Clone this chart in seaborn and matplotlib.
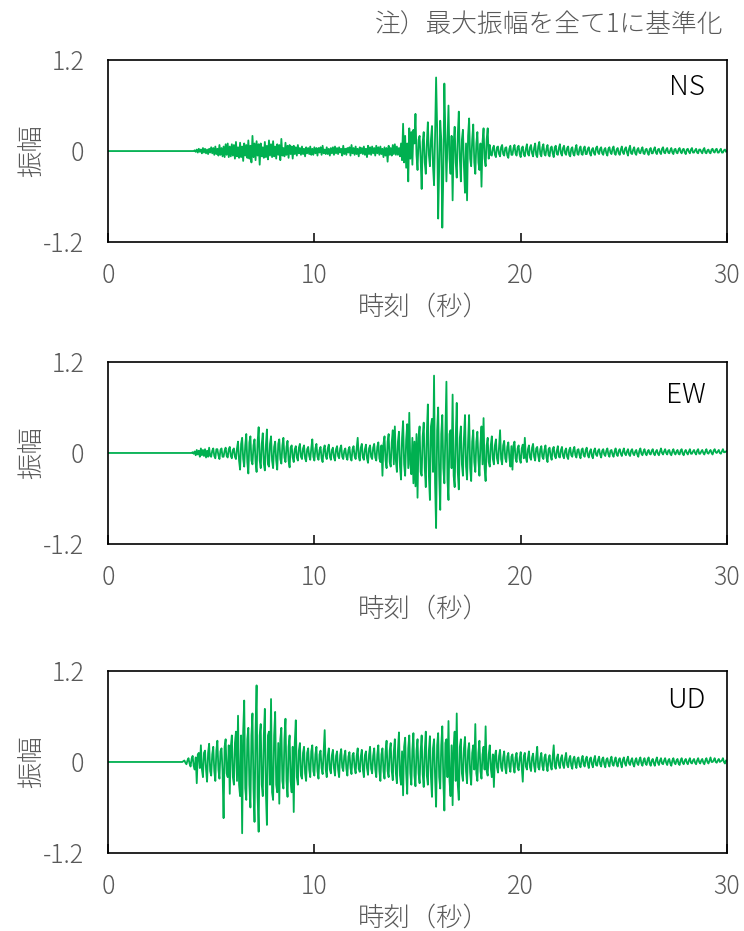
import numpy as np
import pandas as pd
import seaborn as sns
import matplotlib
matplotlib.use("Agg")
import matplotlib.pyplot as plt

# waveforms, one value every 0.05 s (normalised, max |amp| = 1)
# one row = one second
DT = 0.05

NS_START = 4.0
NS = [
    0, 0, 0, 0, 0.01, -0.01, 0.02, -0.02, 0.03, -0.01, 0.02, -0.03, 0.04, -0.02, 0.03, -0.03, 0.02, -0.04, 0.03, -0.02,
    0.05, -0.03, 0.04, -0.05, 0.06, -0.04, 0.03, -0.06, 0.08, -0.05, 0.04, -0.07, 0.06, -0.08, 0.09, -0.05, 0.10, -0.08, 0.06, -0.07,
    0.09, -0.06, 0.08, -0.10, 0.12, -0.07, 0.05, -0.09, 0.11, -0.08, 0.06, -0.13, 0.10, -0.06, 0.08, -0.09, 0.14, -0.10, 0.07, -0.15,
    0.20, -0.08, 0.10, -0.12, 0.13, -0.06, 0.09, -0.18, 0.10, -0.07, 0.05, -0.09, 0.12, -0.08, 0.07, -0.11, 0.14, -0.06, 0.09, -0.08,
    0.13, -0.07, 0.06, -0.10, 0.09, -0.05, 0.08, -0.12, 0.16, -0.06, 0.04, -0.07, 0.11, -0.05, 0.07, -0.09, 0.08, -0.04, 0.06, -0.10,
    0.07, -0.04, 0.05, -0.06, 0.08, -0.03, 0.04, -0.05, 0.06, -0.04, 0.03, -0.07, 0.05, -0.03, 0.04, -0.04, 0.06, -0.05, 0.03, -0.05,
    0.05, -0.03, 0.04, -0.06, 0.04, -0.02, 0.05, -0.05, 0.07, -0.03, 0.02, -0.04, 0.05, -0.04, 0.03, -0.06, 0.04, -0.03, 0.05, -0.05,
    0.06, -0.03, 0.04, -0.04, 0.05, -0.02, 0.03, -0.06, 0.07, -0.04, 0.03, -0.05, 0.04, -0.02, 0.05, -0.06, 0.08, -0.03, 0.04, -0.05,
    0.06, -0.04, 0.03, -0.07, 0.05, -0.03, 0.04, -0.04, 0.06, -0.05, 0.03, -0.08, 0.07, -0.04, 0.05, -0.05, 0.06, -0.03, 0.04, -0.06,
    0.07, -0.03, 0.05, -0.05, 0.06, -0.04, 0.03, -0.08, 0.05, -0.06, 0.04, -0.14, 0.07, -0.05, 0.04, -0.06, 0.08, -0.04, 0.09, -0.05,
    0.06, -0.05, 0.04, -0.07, 0.10, -0.12, 0.36, -0.15, 0.20, -0.22, 0.10, -0.40, 0.30, -0.10, 0.25, -0.18, 0.28, 0.10, 0.49, -0.05,
    -0.25, 0.15, 0.20, -0.10, -0.50, 0.12, 0.25, -0.15, -0.30, 0.10, 0.38, -0.05, -0.20, 0.15, 0.33, -0.20, -0.45, 0.20, 0.97, 0.30,
    -0.89, -0.20, 0.40, 0.15, -1.01, -0.30, 0.89, 0.20, -0.40, 0.10, 0.60, -0.10, -0.30, 0.20, -0.65, 0.10, 0.32, -0.15, -0.35, 0.20,
    0.52, -0.10, -0.40, 0.15, 0.28, -0.20, -0.55, 0.10, -0.65, 0.20, 0.43, -0.10, -0.20, 0.15, 0.35, -0.15, -0.30, 0.10, 0.25, -0.15,
    -0.25, 0.10, -0.47, 0.12, 0.30, -0.10, -0.20, 0.15, 0.30, -0.10, 0.08, -0.05, -0.06, 0.04, 0.07, -0.05, -0.08, 0.05, 0.06, -0.04,
    -0.07, 0.05, 0.08, -0.04, -0.06, 0.04, 0.05, -0.06, -0.09, 0.03, 0.07, -0.05, -0.05, 0.04, 0.08, -0.03, -0.06, 0.05, 0.07, -0.04,
    -0.08, 0.04, 0.06, -0.05, -0.07, 0.03, 0.09, -0.04, -0.06, 0.05, 0.08, -0.03, -0.07, 0.04, 0.10, -0.05, -0.08, 0.06, 0.12, -0.04,
    -0.07, 0.05, 0.09, -0.04, -0.06, 0.03, 0.08, -0.05, -0.07, 0.04, 0.06, -0.03, -0.08, 0.05, 0.07, -0.04, -0.05, 0.04, 0.09, -0.03,
    -0.06, 0.04, 0.07, -0.03, -0.05, 0.04, 0.06, -0.05, -0.07, 0.03, 0.05, -0.04, -0.06, 0.03, 0.08, -0.04, -0.05, 0.03, 0.06, -0.04,
    -0.05, 0.03, 0.06, -0.04, -0.04, 0.03, 0.05, -0.03, -0.06, 0.02, 0.04, -0.03, -0.05, 0.04, 0.06, -0.02, -0.04, 0.03, 0.05, -0.03,
    -0.05, 0.02, 0.04, -0.03, -0.06, 0.03, 0.05, -0.02, -0.04, 0.03, 0.06, -0.03, -0.05, 0.02, 0.04, -0.03, -0.05, 0.02, 0.06, -0.02,
    -0.04, 0.03, 0.05, -0.02, -0.06, 0.03, 0.07, -0.03, -0.04, 0.02, 0.05, -0.03, -0.05, 0.02, 0.04, -0.02, -0.03, 0.02, 0.05, -0.03,
    -0.04, 0.02, 0.03, -0.02, -0.05, 0.02, 0.04, -0.03, -0.03, 0.02, 0.05, -0.02, -0.04, 0.02, 0.03, -0.02, -0.04, 0.03, 0.05, -0.02,
    -0.03, 0.02, 0.04, -0.02, -0.03, 0.01, 0.04, -0.02, -0.04, 0.02, 0.03, -0.02, -0.03, 0.02, 0.04, -0.01, -0.03, 0.02, 0.03, -0.02,
    -0.04, 0.02, 0.03, -0.01, -0.03, 0.02, 0.04, -0.02, -0.02, 0.01, 0.03, -0.02, -0.03, 0.02, 0.02, -0.01, -0.03, 0.02, 0.04, -0.02,
    -0.03, 0.01, 0.02, -0.02, -0.03, 0.02, 0.03, -0.01, -0.02, 0.02, 0.03, -0.02, -0.02, 0.01, 0.03, -0.02, -0.02, 0.01, 0.02, -0.01,
    0.00,
]

EW_START = 4.0
EW = [
    0, 0, 0.01, -0.01, 0.02, -0.03, 0.04, -0.02, 0.03, -0.05, 0.06, -0.03, 0.04, -0.04, 0.05, -0.06, 0.03, -0.05, 0.07, -0.04,
    -0.05, 0.03, 0.06, -0.04, -0.07, 0.05, 0.05, -0.03, -0.08, 0.04, 0.06, -0.05, -0.05, 0.03, 0.07, -0.04, -0.06, 0.05, 0.08, -0.04,
    -0.07, 0.04, 0.06, -0.05, -0.08, 0.06, 0.15, -0.10, -0.22, 0.12, 0.20, -0.08, -0.18, 0.10, 0.25, -0.12, -0.27, 0.14, 0.22, -0.10,
    -0.15, 0.10, 0.18, -0.12, -0.25, 0.15, 0.34, -0.10, -0.20, 0.12, 0.26, -0.14, -0.23, 0.10, 0.31, -0.15, -0.18, 0.12, 0.22, -0.10,
    -0.20, 0.08, 0.15, -0.10, -0.22, 0.12, 0.18, -0.08, -0.14, 0.10, 0.20, -0.06, -0.12, 0.08, 0.16, -0.10, -0.19, 0.07, 0.10, -0.06,
    -0.12, 0.05, 0.09, -0.06, -0.10, 0.07, 0.12, -0.05, -0.08, 0.06, 0.10, -0.07, -0.11, 0.05, 0.08, -0.04, -0.09, 0.06, 0.18, -0.05,
    -0.10, 0.06, 0.12, -0.05, -0.09, 0.04, 0.08, -0.07, -0.12, 0.05, 0.10, -0.04, -0.08, 0.06, 0.11, -0.05, -0.09, 0.04, 0.07, -0.06,
    -0.10, 0.05, 0.09, -0.04, -0.07, 0.06, 0.10, -0.05, -0.08, 0.03, 0.06, -0.05, -0.09, 0.04, 0.08, -0.06, -0.10, 0.05, 0.09, -0.04,
    -0.08, 0.06, 0.20, -0.05, -0.10, 0.07, 0.12, -0.06, -0.09, 0.05, 0.11, -0.07, -0.13, 0.06, 0.10, -0.05, -0.08, 0.07, 0.12, -0.06,
    -0.10, 0.08, 0.14, -0.07, -0.12, 0.10, -0.30, 0.12, 0.22, -0.10, -0.20, 0.15, 0.25, -0.12, -0.18, 0.14, 0.30, -0.15, 0.35, -0.10,
    -0.25, 0.15, 0.28, -0.18, -0.35, 0.20, 0.42, -0.15, -0.30, 0.18, 0.38, -0.20, 0.53, -0.15, -0.28, 0.20, -0.40, 0.15, -0.44, 0.25,
    -0.59, 0.20, 0.35, -0.25, -0.30, 0.22, 0.40, -0.20, -0.45, 0.25, 0.64, -0.30, -0.62, 0.35, 0.45, -0.25, 1.02, -0.40, -0.99, 0.30,
    0.60, -0.30, -0.75, 0.25, 0.50, -0.20, -0.40, 0.30, 0.94, -0.35, -0.62, 0.25, 0.30, -0.20, 0.77, -0.30, -0.45, 0.20, 0.66, -0.25,
    -0.48, 0.20, 0.35, -0.15, -0.30, 0.20, 0.50, -0.18, -0.35, 0.15, 0.50, -0.20, -0.37, 0.15, 0.30, -0.12, -0.25, 0.15, 0.28, -0.10,
    -0.30, 0.12, 0.35, -0.15, 0.46, -0.20, -0.37, 0.10, 0.20, -0.12, -0.18, 0.10, 0.22, -0.08, -0.15, 0.10, 0.18, -0.07, -0.14, 0.08,
    0.30, -0.08, -0.15, 0.10, 0.16, -0.07, -0.12, 0.08, 0.14, -0.06, -0.18, 0.09, -0.22, 0.10, 0.15, -0.07, -0.12, 0.06, 0.10, -0.08,
    -0.13, 0.06, 0.11, -0.07, 0.20, -0.06, -0.12, 0.05, 0.10, -0.06, -0.09, 0.07, 0.12, -0.05, -0.10, 0.06, 0.08, -0.04, -0.11, 0.05,
    0.09, -0.05, -0.08, 0.04, 0.10, -0.06, -0.12, 0.05, 0.07, -0.04, -0.09, 0.05, 0.08, -0.04, -0.07, 0.03, 0.09, -0.05, -0.06, 0.04,
    0.08, -0.04, -0.07, 0.03, 0.06, -0.05, -0.08, 0.04, 0.07, -0.03, -0.05, 0.04, 0.08, -0.03, -0.06, 0.04, 0.05, -0.03, -0.07, 0.04,
    0.06, -0.03, -0.05, 0.04, 0.07, -0.03, -0.06, 0.02, 0.05, -0.04, -0.07, 0.03, 0.06, -0.02, -0.04, 0.03, 0.05, -0.02, -0.06, 0.03,
    0.05, -0.02, -0.04, 0.03, 0.06, -0.02, -0.05, 0.03, 0.04, -0.02, -0.05, 0.02, 0.06, -0.02, -0.04, 0.03, 0.05, -0.01, -0.04, 0.02,
    0.06, -0.01, -0.03, 0.02, 0.05, -0.02, -0.04, 0.03, 0.05, -0.01, -0.03, 0.02, 0.04, -0.02, -0.05, 0.03, 0.06, -0.01, -0.03, 0.02,
    0.05, -0.01, -0.03, 0.02, 0.04, -0.01, -0.02, 0.03, 0.05, -0.01, -0.03, 0.02, 0.04, -0.01, -0.03, 0.02, 0.06, 0.00, -0.02, 0.02,
    0.05, 0.00, -0.02, 0.03, 0.04, -0.01, -0.03, 0.02, 0.05, 0.00, -0.02, 0.02, 0.04, -0.01, -0.02, 0.03, 0.05, -0.01, -0.03, 0.02,
    0.04, 0.00, -0.02, 0.02, 0.05, -0.01, -0.01, 0.02, 0.04, 0.00, -0.02, 0.03, 0.05, -0.01, -0.01, 0.02, 0.04, 0.00, -0.02, 0.02,
    0.05, 0.00, -0.01, 0.02, 0.04, 0.00, -0.02, 0.03, 0.05, 0.01, 0.00, 0.02, 0.04, 0.00, -0.01, 0.02, 0.05, 0.01, 0.01, 0.02,
    0.03,
]

UD_START = 3.6
UD = [
    0.00, 0.01, 0.02, -0.01, -0.03, 0.02, 0.05, -0.02,
    -0.06, 0.04, 0.08, -0.05, -0.10, 0.06, -0.28, 0.10, 0.12, -0.08, 0.22, -0.10, -0.20, 0.12, 0.15, -0.10, -0.26, 0.12, 0.24, -0.12,
    -0.18, 0.10, 0.20, -0.12, -0.25, 0.15, 0.28, -0.10, -0.22, 0.14, 0.18, -0.12, -0.74, 0.20, 0.30, -0.15, -0.20, 0.22, -0.42, 0.20,
    0.35, -0.20, -0.30, 0.25, 0.40, -0.25, 0.61, -0.30, -0.45, 0.35, -0.94, 0.40, 0.81, -0.35, -0.50, 0.30, 0.45, -0.30, -0.60, 0.35,
    0.64, -0.35, -0.79, 0.40, 1.01, -0.45, -0.92, 0.35, 0.50, -0.30, -0.45, 0.35, 0.70, -0.40, -0.83, 0.35, 0.40, -0.30, 0.83, -0.40,
    -0.50, 0.35, 0.66, -0.30, -0.40, 0.25, -0.55, 0.30, 0.45, -0.25, -0.35, 0.30, 0.57, -0.25, -0.46, 0.20, 0.35, -0.25, -0.40, 0.20,
    -0.66, 0.25, 0.55, -0.20, -0.30, 0.15, 0.25, -0.18, -0.22, 0.12, 0.20, -0.15, -0.25, 0.12, 0.18, -0.10, -0.20, 0.14, 0.22, -0.12,
    -0.18, 0.10, 0.20, -0.12, -0.22, 0.10, 0.15, -0.08, -0.16, 0.12, 0.42, -0.10, -0.20, 0.08, 0.18, -0.10, -0.15, 0.09, 0.16, -0.08,
    -0.18, 0.08, 0.14, -0.10, -0.20, 0.09, 0.17, -0.07, -0.12, 0.08, 0.15, -0.09, -0.18, 0.07, 0.13, -0.08, -0.16, 0.09, 0.12, -0.07,
    -0.15, 0.08, 0.18, -0.09, -0.13, 0.07, 0.16, -0.10, -0.20, 0.09, 0.14, -0.08, -0.17, 0.10, 0.20, -0.09, -0.15, 0.08, 0.18, -0.10,
    -0.20, 0.10, 0.22, -0.12, -0.25, 0.10, 0.18, -0.12, -0.22, 0.14, 0.28, -0.12, -0.20, 0.15, 0.25, -0.12, -0.24, 0.14, 0.30, -0.15,
    -0.28, 0.15, 0.39, -0.18, -0.30, 0.14, -0.44, 0.20, 0.32, -0.15, -0.42, 0.18, 0.35, -0.15, -0.30, 0.16, 0.38, -0.18, -0.32, 0.15,
    0.30, -0.15, -0.28, 0.14, 0.35, -0.16, -0.33, 0.15, 0.40, -0.18, -0.30, 0.15, 0.34, -0.20, -0.46, 0.18, 0.30, -0.20, -0.59, 0.22,
    0.38, -0.20, -0.35, 0.22, 0.47, -0.25, -0.64, 0.25, 0.30, -0.20, 0.54, -0.25, -0.45, 0.22, -0.57, 0.20, 0.40, -0.25, 0.64, -0.30,
    -0.50, 0.20, 0.30, -0.15, -0.25, 0.18, 0.33, -0.12, -0.28, 0.15, 0.25, -0.14, -0.30, 0.12, 0.22, -0.10, 0.50, -0.15, -0.25, 0.12,
    0.28, -0.12, -0.22, 0.10, 0.20, -0.10, 0.47, -0.12, -0.18, 0.10, 0.22, -0.08, -0.20, 0.10, -0.33, 0.08, 0.15, -0.07, -0.14, 0.08,
    0.16, -0.07, -0.12, 0.06, 0.14, -0.08, -0.15, 0.07, 0.12, -0.06, -0.13, 0.07, 0.10, -0.05, -0.14, 0.06, 0.12, -0.07, -0.11, 0.05,
    0.13, -0.06, -0.26, 0.08, 0.12, -0.06, -0.10, 0.05, 0.14, -0.07, -0.12, 0.06, 0.11, -0.05, -0.13, 0.06, 0.20, -0.07, -0.10, 0.05,
    0.12, -0.05, -0.11, 0.06, 0.10, -0.05, -0.12, 0.04, 0.09, -0.05, -0.10, 0.06, 0.22, -0.06, -0.09, 0.05, 0.10, -0.04, -0.08, 0.05,
    0.09, -0.04, -0.08, 0.05, 0.12, -0.04, -0.07, 0.04, 0.08, -0.05, -0.09, 0.04, 0.07, -0.03, -0.08, 0.04, 0.06, -0.04, -0.07, 0.03,
    0.08, -0.03, -0.06, 0.04, 0.07, -0.03, -0.08, 0.04, 0.06, -0.03, -0.07, 0.03, 0.08, -0.04, -0.05, 0.03, 0.07, -0.03, -0.06, 0.04,
    0.06, -0.03, -0.07, 0.03, 0.05, -0.02, -0.06, 0.03, 0.07, -0.03, -0.05, 0.02, 0.06, -0.03, -0.06, 0.03, 0.05, -0.02, -0.07, 0.03,
    0.06, -0.02, -0.05, 0.03, 0.07, -0.02, -0.04, 0.02, 0.05, -0.03, -0.06, 0.02, 0.05, -0.02, -0.04, 0.03, 0.06, -0.02, -0.05, 0.02,
    0.05, -0.02, -0.04, 0.03, 0.06, -0.02, -0.05, 0.02, 0.04, -0.02, -0.05, 0.02, 0.06, -0.01, -0.04, 0.02, 0.05, -0.02, -0.03, 0.02,
    0.05, -0.01, -0.04, 0.02, 0.04, -0.02, -0.05, 0.02, 0.05, -0.01, -0.03, 0.02, 0.04, -0.02, -0.04, 0.02, 0.05, -0.01, -0.03, 0.02,
    0.04, -0.01, -0.03, 0.02, 0.05, -0.01, -0.02, 0.02, 0.04, -0.01, -0.03, 0.02, 0.05, 0.00, -0.02, 0.02, 0.04, -0.01, -0.03, 0.02,
    0.05, 0.00, -0.02, 0.02, 0.06, 0.00, 0.00, 0.02, 0.05, 0.00, -0.01, 0.02, 0.04, 0.00, 0.01, 0.02, 0.05, 0.00, -0.02, 0.02,
    0.02,
]

COMPONENTS = ["NS", "EW", "UD"]
X_TICKS = [0, 10, 20, 30]
Y_TICKS = [-1.2, 0, 1.2]
Y_TICK_LABELS = ["-1.2", "0", "1.2"]
NOTE = "注）最大振幅を全て1に基準化"
XLABEL = "時刻（秒）"
YLABEL = "振幅"

GREEN = "#00B050"
GREY = "#595959"


def trace_frame(name, start, vals):
    # flat line from t=0 until the record starts
    t = np.concatenate([[0.0], start + DT * np.arange(len(vals))])
    a = np.concatenate([[0.0], vals])
    return pd.DataFrame({"time": t, "amp": a, "comp": name})


df = pd.concat([trace_frame("NS", NS_START, NS),
                trace_frame("EW", EW_START, EW),
                trace_frame("UD", UD_START, UD)], ignore_index=True)

sns.set_theme(style="white")
plt.rcParams["font.family"] = ["Noto Sans CJK JP", "DejaVu Sans"]
plt.rcParams["font.weight"] = "light"
plt.rcParams["axes.labelweight"] = "light"

fig = plt.figure(figsize=(7.44, 9.31), dpi=100)

# axes boxes in figure fractions (left, bottom, width, height)
boxes = [(0.1452, 0.740, 0.832, 0.1955),
         (0.1452, 0.4157, 0.832, 0.1955),
         (0.1452, 0.0838, 0.832, 0.1955)]
label_y = [0.85, 0.82, 0.84]

for comp, box, ly in zip(COMPONENTS, boxes, label_y):
    ax = fig.add_axes(box)
    sns.lineplot(data=df[df["comp"] == comp], x="time", y="amp",
                 estimator=None, sort=False, color=GREEN, linewidth=1.3, ax=ax)
    ax.set_xlim(0, 30)
    ax.set_ylim(-1.2, 1.2)
    ax.set_xticks(X_TICKS)
    ax.set_yticks(Y_TICKS)
    ax.set_yticklabels(Y_TICK_LABELS)
    ax.tick_params(axis="x", direction="in", length=6.5, width=1.1, color="black",
                   pad=15, labelsize=18, labelcolor=GREY, bottom=True)
    ax.tick_params(axis="y", length=0, pad=17, labelsize=18, labelcolor=GREY, left=True)
    for sp in ax.spines.values():
        sp.set_color("black")
        sp.set_linewidth(1.2)
    ax.set_xlabel(XLABEL, fontsize=19, color=GREY)
    ax.set_ylabel(YLABEL, fontsize=19, color=GREY, labelpad=-1)
    ax.xaxis.set_label_coords(0.51, -0.28)
    ax.text(0.965, ly, comp, transform=ax.transAxes, ha="right", va="center",
            fontsize=20, color="black")

fig.text(0.972, 0.973, NOTE, ha="right", va="center", fontsize=18.5, color=GREY)

fig.savefig("out.png", dpi=100)
